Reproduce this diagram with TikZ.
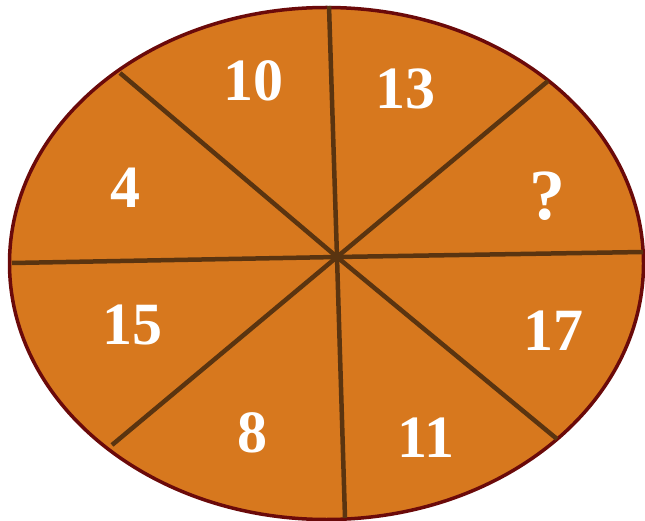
\documentclass[tikz,border=0pt]{standalone}
\usepackage{fontspec}
\setmainfont{Liberation Serif}
\definecolor{slicefill}{HTML}{D7781E}
\definecolor{spoke}{HTML}{5A3410}
\definecolor{rim}{HTML}{6B0A0A}
\begin{document}
\begin{tikzpicture}[x=1pt,y=-1pt,
  spokeline/.style={draw=spoke,line width=4.5pt},
  num/.style={text=white,font=\bfseries\fontsize{60}{60}\selectfont,inner sep=0pt}]
\useasboundingbox (0,0) rectangle (645,521);
\fill[white] (0,0) rectangle (645,521);
\filldraw[fill=slicefill,draw=rim,line width=3.5pt] (326.5,263.5) ellipse [x radius=317, y radius=256];
\coordinate (c) at (337,257);
\coordinate (t) at (329,6);
\coordinate (b) at (345,518);
\coordinate (l) at (12,263);
\coordinate (r) at (643,252);
\coordinate (tl) at (120,73);
\coordinate (br) at (557,439);
\coordinate (tr) at (548,81);
\coordinate (bl) at (112,445);
\foreach \p in {t,b,l,r,tl,br,tr,bl} \draw[spokeline] (c) -- (\p);
\fill[spoke] (c) circle (5pt);
\node[num] (n10) at (253,81) {10};
\node[num] (n13) at (405,89) {13};
\node[num,font=\bfseries\fontsize{72}{72}\selectfont] (nq) at (547,196) {?};
\node[num] (n4) at (125,188) {4};
\node[num] (n15) at (132,325) {15};
\node[num] (n17) at (553,331) {17};
\node[num] (n8) at (252,433) {8};
\node[num] (n11) at (426,438) {11};
\end{tikzpicture}
\end{document}
